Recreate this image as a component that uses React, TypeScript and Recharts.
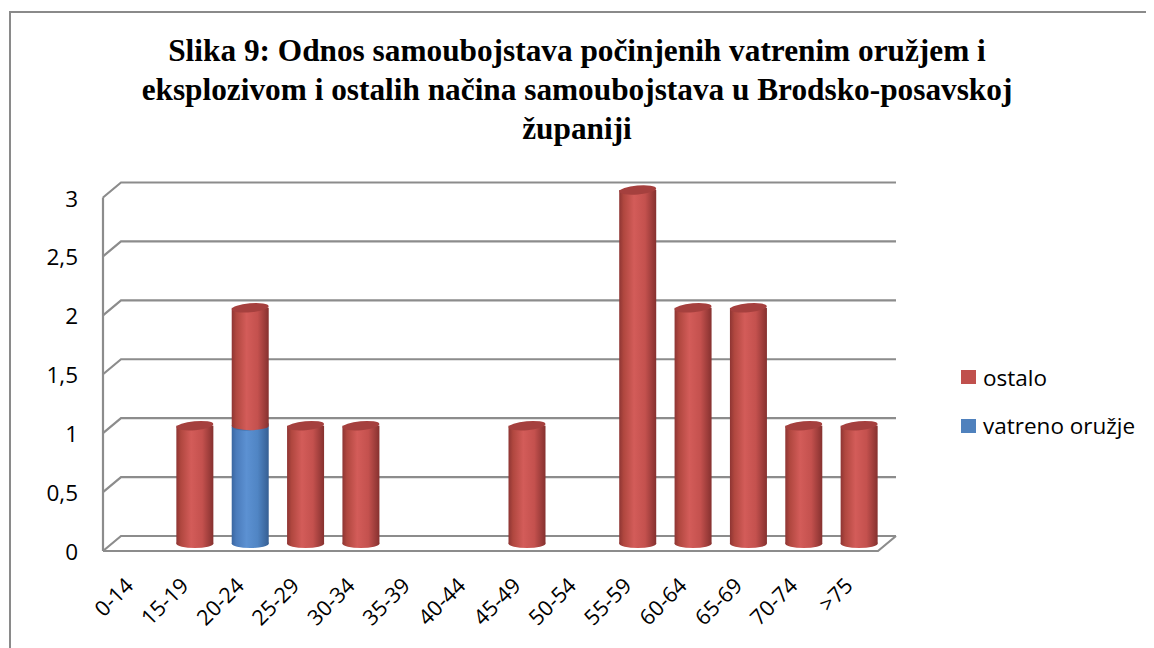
import { BarChart, Bar, XAxis, YAxis, CartesianGrid, Legend } from 'recharts';

const categories = ['0-14', '15-19', '20-24', '25-29', '30-34', '35-39', '40-44', '45-49', '50-54', '55-59', '60-64', '65-69', '70-74', '>75'];
const vatrenoOruzje = [0, 0, 1, 0, 0, 0, 0, 0, 0, 0, 0, 0, 0, 0];
const ostalo = [0, 1, 1, 1, 1, 0, 0, 1, 0, 3, 2, 2, 1, 1];
const yTicks = [0, 0.5, 1, 1.5, 2, 2.5, 3];
const titleLines = [
  'Slika 9: Odnos samoubojstava počinjenih vatrenim oružjem i',
  'eksplozivom i ostalih načina samoubojstava u Brodsko-posavskoj',
  'županiji',
];

const data = categories.map((c, i) => ({ name: c, vatreno: vatrenoOruzje[i], ostalo: ostalo[i] }));

const W = 1146;
const H = 640;
const LEFT = 104;
const RIGHT = 879;
const TOP = 182;
const BOTTOM = 535.5;
const DX = 9;
const DY = 7.5;
const FONT = '"Open Sans", Lato, sans-serif';
const FS = 22.5;
const GRID = '#8c8c8c';

function Cylinder(props: any) {
  const { x, y, width, height, gradId, topColor } = props;
  if (!height || height <= 0) return null;
  const cx = x + width / 2;
  const rx = width / 2;
  const ry = 4.5;
  return (
    <g>
      <ellipse cx={cx} cy={y + height} rx={rx} ry={ry} fill={`url(#${gradId})`} />
      <rect x={x} y={y} width={width} height={height} fill={`url(#${gradId})`} />
      <ellipse cx={cx} cy={y} rx={rx} ry={ry} fill={topColor} transform={`rotate(-5 ${cx} ${y})`} />
    </g>
  );
}

function gridLine(p: any) {
  const y = p.y1;
  const x1 = p.x1;
  const x2 = p.x2;
  const parts = [`M${x1 - DX},${y + DY} L${x1 + DX},${y - DY} L${x2 + DX},${y - DY}`];
  if (Math.abs(y - BOTTOM) < 1) {
    parts.push(`M${x1 - DX},${y + DY} L${x2 - DX},${y + DY} L${x2 + DX},${y - DY}`);
  }
  if (Math.abs(y - TOP) < 1) {
    parts.push(`M${x1 - DX},${y + DY} L${x1 - DX},${BOTTOM + DY}`);
  }
  return <path key={p.key ?? `g-${p.index}`} d={parts.join(' ')} stroke={GRID} strokeWidth={2.2} fill="none" />;
}

const YTick = ({ y, payload }: any) => (
  <text x={70} y={y + 16.5} textAnchor="end" fontFamily={FONT} fontSize={FS} fill="#000">
    {String(payload.value).replace('.', ',')}
  </text>
);

const XTick = ({ x, payload }: any) => (
  <text transform={`translate(${x - 5},579) rotate(-45)`} textAnchor="end" fontFamily={FONT} fontSize={21.5} fill="#000">
    {payload.value}
  </text>
);

const legendItems = [
  { label: 'ostalo', color: '#C0504D' },
  { label: 'vatreno oružje', color: '#4F81BD' },
];

const LegendContent = () => (
  <div style={{ fontFamily: FONT, fontSize: FS, color: '#000' }}>
    {legendItems.map((it, i) => (
      <div key={it.label} style={{ display: 'flex', alignItems: 'center', height: 26, marginBottom: i === 0 ? 22.5 : 0 }}>
        <div style={{ width: 15, height: 14, background: it.color, marginRight: 7, flex: 'none' }} />
        <span style={{ whiteSpace: 'nowrap' }}>{it.label}</span>
      </div>
    ))}
  </div>
);

export default function App() {
  return (
    <div style={{ position: 'relative', width: W, height: H, overflow: 'hidden', background: '#fff' }}>
      <div style={{ position: 'absolute', left: 1, top: 3, width: 2000, height: 2000, borderLeft: '2px solid #8a8a8a', borderTop: '2px solid #8a8a8a' }} />
      <div
        style={{
          position: 'absolute',
          left: 0,
          top: 23,
          width: 1138,
          textAlign: 'center',
          fontFamily: '"Liberation Serif", "Times New Roman", serif',
          fontWeight: 'bold',
          fontSize: 31.3,
          lineHeight: '39px',
          color: '#000',
        }}
      >
        {titleLines.map((t) => (
          <div key={t}>{t}</div>
        ))}
      </div>
      <div style={{ position: 'absolute', left: 0, top: 0 }}>
        <BarChart
          width={W}
          height={H}
          data={data}
          margin={{ top: TOP, right: W - RIGHT, bottom: H - BOTTOM - 40, left: LEFT - 60 }}
        >
          <defs>
            <linearGradient id="redBody" x1="0" y1="0" x2="1" y2="0">
              <stop offset="0%" stopColor="#8E3533" />
              <stop offset="12%" stopColor="#B0473F" />
              <stop offset="40%" stopColor="#D35C59" />
              <stop offset="70%" stopColor="#C4514E" />
              <stop offset="100%" stopColor="#86312F" />
            </linearGradient>
            <linearGradient id="blueBody" x1="0" y1="0" x2="1" y2="0">
              <stop offset="0%" stopColor="#3A66A0" />
              <stop offset="12%" stopColor="#4A7BBB" />
              <stop offset="40%" stopColor="#5C91D2" />
              <stop offset="70%" stopColor="#5085C4" />
              <stop offset="100%" stopColor="#365F93" />
            </linearGradient>
          </defs>
          <CartesianGrid vertical={false} horizontal={gridLine} />
          <XAxis dataKey="name" height={40} axisLine={false} tickLine={false} interval={0} tick={<XTick />} />
          <YAxis domain={[0, 3]} ticks={yTicks} width={60} axisLine={false} tickLine={false} tick={<YTick />} />
          <Legend
            layout="vertical"
            align="center"
            verticalAlign="middle"
            content={<LegendContent />}
            wrapperStyle={{ left: 953, top: 356, width: 190 }}
          />
          <Bar
            dataKey="vatreno"
            name="vatreno oružje"
            stackId="a"
            fill="#4F81BD"
            barSize={37}
            isAnimationActive={false}
            shape={(p: any) => <Cylinder {...p} gradId="blueBody" topColor="#3F6DA6" />}
          />
          <Bar
            dataKey="ostalo"
            name="ostalo"
            stackId="a"
            fill="#C0504D"
            barSize={37}
            isAnimationActive={false}
            shape={(p: any) => <Cylinder {...p} gradId="redBody" topColor="#A5403E" />}
          />
        </BarChart>
      </div>
    </div>
  );
}
